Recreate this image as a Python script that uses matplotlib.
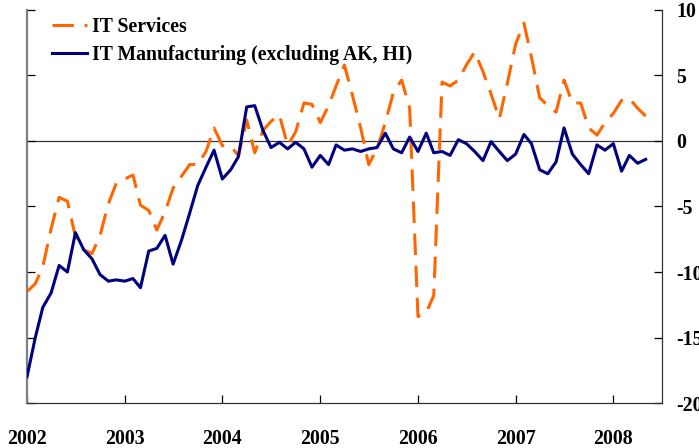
"""
IT services vs IT manufacturing, monthly series 2002-2008
"""

import numpy as np
import pandas as pd
import matplotlib
matplotlib.use("Agg")
from matplotlib import pyplot as plt

# Data (monthly from Jan 2002)
it_services = [
    -11.5, -10.9, -9.6, -6.7, -4.3, -4.6, -7.3, -8.3, -8.6, -7.2, -4.8, -3.2,
    -2.9, -2.6, -4.9, -5.3, -6.8, -5.4, -3.6, -2.7, -1.8, -1.8, -0.8, 1.0,
    -0.35, -0.4, -1.1, 1.6, -0.9, 0.8, 1.5, 2.0, -0.35, 0.7, 2.9, 2.8,
    1.4, 2.7, 4.2, 5.8, 3.5, 1.0, -1.8, -0.6, 1.4, 3.7, 4.65, 2.5,
    -13.4, -13.1, -11.8, 4.5, 4.2, 4.65, 5.8, 6.8, 5.3, 3.6, 1.7, 4.4,
    7.4, 9.0, 6.4, 3.3, 2.7, 2.2, 4.65, 2.9, 2.9, 1.0, 0.45, 1.4,
    2.1, 3.1, 3.25, 2.5, 1.9,
]
it_manufacturing = [
    -18.0, -15.0, -12.7, -11.6, -9.5, -10.0, -7.0, -8.3, -9.0, -10.2, -10.7, -10.6,
    -10.7, -10.5, -11.2, -8.4, -8.2, -7.2, -9.4, -7.6, -5.5, -3.4, -2.0, -0.7,
    -2.9, -2.2, -1.2, 2.6, 2.7, 0.8, -0.5, -0.1, -0.6, -0.1, -0.6, -2.0,
    -1.1, -1.8, -0.3, -0.7, -0.6, -0.8, -0.6, -0.5, 0.6, -0.6, -0.9, 0.3,
    -0.8, 0.6, -0.9, -0.8, -1.1, 0.1, -0.2, -0.8, -1.5, -0.05, -0.8, -1.5,
    -1.0, 0.5, -0.2, -2.2, -2.5, -1.6, 1.0, -1.0, -1.8, -2.5, -0.3, -0.7,
    -0.2, -2.3, -1.1, -1.7, -1.4,
]
months = pd.date_range("2002-01-01", periods=len(it_services), freq="MS")
year_ticks = [2002, 2003, 2004, 2005, 2006, 2007, 2008]
y_ticks = [-20, -15, -10, -5, 0, 5, 10]

plt.rcParams["font.family"] = ["Liberation Serif", "DejaVu Serif"]
plt.rcParams["font.weight"] = "bold"
plt.rcParams["axes.unicode_minus"] = False

fig = plt.figure(figsize=(6.99, 4.48), dpi=100)
ax = fig.add_axes([27 / 699, 1 - 403 / 448, 635 / 699, 393 / 448])

# Zero line
ax.axhline(0, color="#333333", lw=0.9, zorder=1)

# Series
ax.plot(months, it_services, color="#FF6600", lw=2.2, dashes=(7, 3.5),
        label="IT Services", zorder=3)
ax.plot(months, it_manufacturing, color="#000080", lw=2.2,
        label="IT Manufacturing (excluding AK, HI)", zorder=3)

# Axes
ax.set_xlim(pd.Timestamp("2002-01-01"), pd.Timestamp("2008-07-01"))
ax.set_ylim(-20, 10)
ax.set_xticks([pd.Timestamp(f"{y}-01-01") for y in year_ticks])
ax.set_xticklabels([str(y) for y in year_ticks])
ax.set_yticks(y_ticks)
ax.set_yticklabels([str(v) for v in y_ticks])

ax.tick_params(axis="x", direction="in", length=6, width=0.9, pad=19,
               labelsize=14.3, colors="black")
ax.tick_params(axis="y", direction="in", length=6, width=0.9, pad=10,
               left=True, right=True, labelleft=False, labelright=True,
               labelsize=14.3)

ax.spines["top"].set_visible(False)
ax.spines["left"].set_color("#808080")
ax.spines["left"].set_linewidth(1.6)
for s in ["bottom", "right"]:
    ax.spines[s].set_color("#333333")
    ax.spines[s].set_linewidth(0.9)

leg = ax.legend(loc="upper left", bbox_to_anchor=(0.039, 0.983), frameon=False,
                fontsize=14.2, handlelength=1.78, handletextpad=0.28,
                labelspacing=0.4, borderpad=0, borderaxespad=0)

fig.savefig("out.png", dpi=100)
plt.close()
